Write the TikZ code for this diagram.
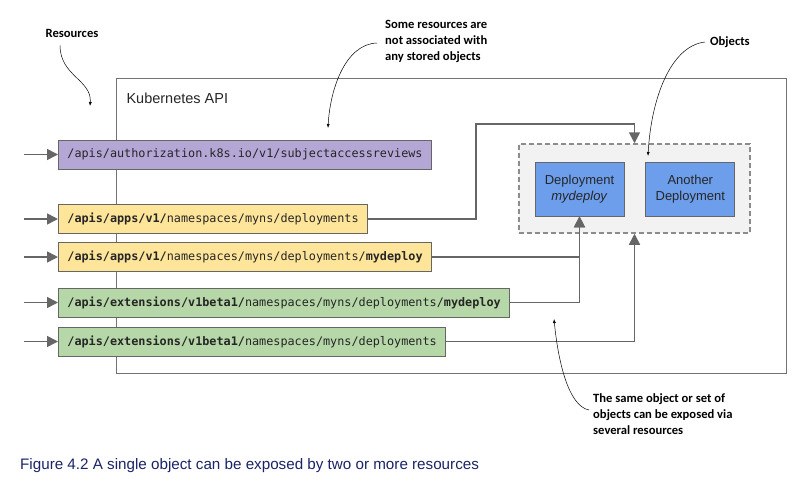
\documentclass[tikz,border=0pt]{standalone}
\usepackage{fontspec}
\setmainfont{Liberation Sans}
\setmonofont{DejaVu Sans Mono}
\newfontfamily\notefont{Carlito}
\usetikzlibrary{arrows.meta,positioning}

\definecolor{respurple}{HTML}{B4A7D6}
\definecolor{resyellow}{HTML}{FFE599}
\definecolor{resgreen}{HTML}{B6D7A8}
\definecolor{objblue}{HTML}{6D9EEB}
\definecolor{linegray}{HTML}{666666}
\definecolor{captionblue}{HTML}{1A2466}

\newcommand{\pathfont}{\ttfamily\fontsize{11.8}{14}\selectfont}
\newcommand{\notesize}{\notefont\bfseries\fontsize{12.6}{16}\selectfont}

\begin{document}
\begin{tikzpicture}[x=1pt,y=1pt,
  res/.style={draw=linegray,line width=0.8pt,anchor=west,inner xsep=9pt,minimum height=29pt,text=black!85,font=\pathfont},
  obj/.style={draw=linegray,line width=0.8pt,fill=objblue,minimum width=89pt,minimum height=54pt,align=center,font=\fontsize{13}{16}\selectfont,text=black!85},
  link/.style={draw=linegray,line width=1.6pt,-{Triangle[length=11pt,width=11pt]}},
  note/.style={-{Latex[length=4pt,width=3pt]},line width=0.5pt},
  notetext/.style={align=left,font=\notesize,inner sep=0pt}]
  \useasboundingbox (0,-503) rectangle (802,0);

  % api box
  \node [draw=black!55,line width=0.8pt,minimum width=670pt,minimum height=295pt,anchor=north west] (api) at (116,-78) {};
  \node [anchor=west,font=\fontsize{14.5}{16}\selectfont,text=black!85] (apiname) at (123,-98) {Kubernetes API};

  % resources
  \node [res,fill=respurple] (pa) at (58,-154.5) {/apis/authorization.k8s.io/v1/subjectaccessreviews};
  \node [res,fill=resyellow] (ya) at (58,-219) {\textbf{/apis/apps/v1/}namespaces/myns/deployments};
  \node [res,fill=resyellow] (yb) at (58,-257) {\textbf{/apis/apps/v1/}namespaces/myns/deployments/\textbf{mydeploy}};
  \node [res,fill=resgreen] (ga) at (58,-302.5) {\textbf{/apis/extensions/v1beta1/}namespaces/myns/deployments/\textbf{mydeploy}};
  \node [res,fill=resgreen] (gb) at (58,-341.5) {\textbf{/apis/extensions/v1beta1/}namespaces/myns/deployments};

  % objects
  \node [draw=black!45,dashed,dash pattern=on 5pt off 3pt,line width=1.5pt,fill=black!5,minimum width=231pt,minimum height=89pt] (group) at (634.5,-188.5) {};
  \node [obj] (dep) at (579.5,-189) {Deployment\\\textit{mydeploy}};
  \node [obj,right=21pt of dep] (other) {Another\\Deployment};

  % incoming arrows
  \foreach \n in {pa,ya,yb,ga,gb} {
    \coordinate (\n-in) at ([xshift=-34pt]\n.west);
    \draw [link] (\n-in) -- (\n.west);
  }

  % resource -> object
  \coordinate (bend) at (476,-124);
  \draw [link] (ya.east) -| (bend) -| (group.north);
  \draw [link] (yb.east) -| (dep.south);
  \draw [link] (ga.east) -| (dep.south);
  \draw [link] (gb.east) -| (group.south);

  % notes
  \node [notetext] (n1) at (72,-33) {Resources};
  \node [notetext,anchor=west] (n2) at (385,-41) {Some resources are\\not associated with\\any stored objects};
  \node [notetext,anchor=west] (n3) at (710,-42) {Objects};
  \node [notetext,anchor=west] (n4) at (593,-414) {The same object or set of\\objects can be exposed via\\several resources};
  \coordinate (t1) at (90,-106);
  \coordinate (t2) at (328,-128);
  \coordinate (t3) at (648,-156);
  \coordinate (t4) at (554,-319);
  \draw [note] (n1.south) ++(-12,-8) .. controls (60,-76) and (92,-80) .. (t1);
  \draw [note] (n2.west) ++(-8,-2) .. controls (345,-44) and (330,-90) .. (t2);
  \draw [note] (n3.west) ++(-5,0) .. controls (670,-46) and (651,-100) .. (t3);
  \draw [note] (n4.west) ++(-4,4) .. controls (568,-406) and (558,-360) .. (t4);

  % caption
  \node [anchor=west,text=captionblue,font=\fontsize{15.2}{18}\selectfont,inner sep=0pt] (caption) at (20,-466) {Figure 4.2 A single object can be exposed by two or more resources};
\end{tikzpicture}
\end{document}
